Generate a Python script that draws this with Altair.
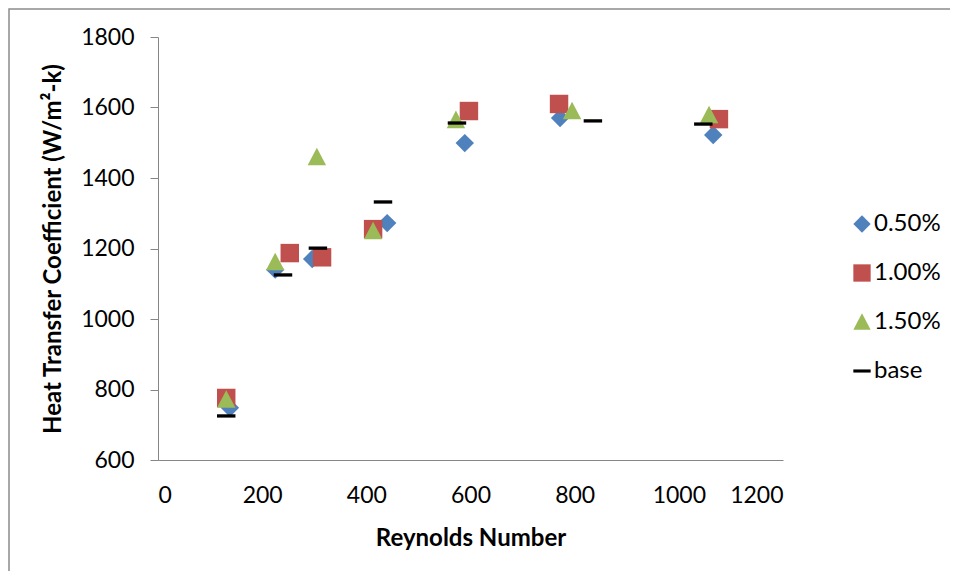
import altair as alt
import pandas as pd

series = ["0.50%", "1.00%", "1.50%", "base"]
colors = ["#4F81BD", "#C0504D", "#9BBB59", "#000000"]
shapes = ["diamond", "square", "M0,-1L1,0.9L-1,0.9Z", "M-1,-0.18L1,-0.18L1,0.18L-1,0.18Z"]

re_050 = [138, 225, 296, 440, 589, 772, 1066]
htc_050 = [748, 1140, 1170, 1272, 1499, 1570, 1522]
re_100 = [131, 253, 315, 413, 597, 770, 1077]
htc_100 = [776, 1187, 1175, 1255, 1590, 1610, 1567]
re_150 = [131, 225, 305, 413, 572, 795, 1058]
htc_150 = [772, 1162, 1460, 1250, 1565, 1590, 1579]
re_base = [131, 240, 307, 432, 574, 835, 1047]
htc_base = [725, 1125, 1201, 1332, 1556, 1562, 1553]

x_ticks = [0, 200, 400, 600, 800, 1000, 1200]
y_ticks = [600, 800, 1000, 1200, 1400, 1600, 1800]

rows = []
for name, xs, ys in zip(series, [re_050, re_100, re_150, re_base],
                        [htc_050, htc_100, htc_150, htc_base]):
    for xv, yv in zip(xs, ys):
        rows.append({"series": name, "re": xv, "htc": yv})
df = pd.DataFrame(rows)
df["order"] = df["series"].map({s: i for i, s in enumerate(series)})

FONT = "Lato"

frame = alt.Chart(pd.DataFrame({"a": [0]})).mark_rect(
    fill=None, stroke="#8c8c8c", strokeWidth=1.5
).encode(
    x=alt.value(-149), x2=alt.value(830), y=alt.value(-28), y2=alt.value(560)
)

points = alt.Chart(df).mark_point(filled=True, opacity=1, size=340).encode(
    x=alt.X("re:Q", scale=alt.Scale(domain=[0, 1200], nice=False),
            axis=alt.Axis(title="Reynolds Number", values=x_ticks, ticks=False, tickSize=0,
                          grid=False, labelPadding=24, titleY=85, format="d",
                          titleBaseline="alphabetic")),
    y=alt.Y("htc:Q", scale=alt.Scale(domain=[600, 1800], nice=False, zero=False),
            axis=alt.Axis(title="Heat Transfer Coefficient (W/m²-k)", values=y_ticks,
                          tickSize=8, grid=False, labelPadding=16, titleX=-98, format="d",
                          titleY=211.5, titleBaseline="alphabetic", titleAngle=-90)),
    color=alt.Color("series:N", scale=alt.Scale(domain=series, range=colors),
                    legend=alt.Legend(title=None, orient="none", legendX=692, legendY=175,
                                      symbolSize=300, rowPadding=25, labelFontSize=24,
                                      labelFont=FONT, labelColor="#000000",
                                      labelOffset=0)),
    shape=alt.Shape("series:N", scale=alt.Scale(domain=series, range=shapes)),
    order=alt.Order("order:Q"),
)

chart = alt.layer(frame, points).properties(
    width=625, height=423,
    autosize=alt.AutoSizeParams(type="none"),
    padding={"left": 150, "top": 29, "right": 167, "bottom": 111},
).configure_view(stroke=None).configure_axis(
    domainColor="#868686", tickColor="#868686", labelFont=FONT, titleFont=FONT,
    labelFontSize=23, titleFontSize=24, labelColor="#000000", titleColor="#000000",
    titleFontWeight="bold"
)

chart.save("out.html", embed_options={"renderer": "svg", "actions": False})
